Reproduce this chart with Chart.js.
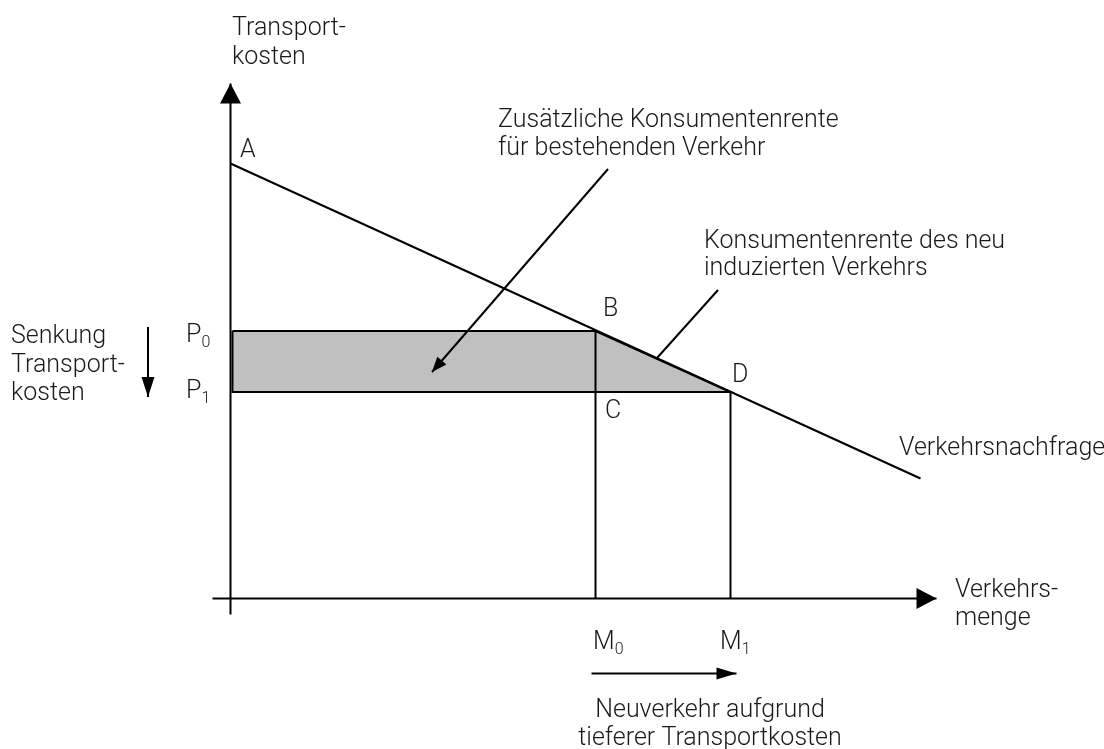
<!DOCTYPE html>
<html>
<head>
<meta charset="utf-8">
<script src="https://cdn.jsdelivr.net/npm/chart.js@4"></script>
<style>
  html, body { margin: 0; padding: 0; background: #fff; }
  #wrap { width: 1104px; height: 749px; }
</style>
</head>
<body>
<div id="wrap"><canvas id="chart" width="1104" height="749"></canvas></div>
<script>
// Demand curve (Verkehrsnachfrage): from A down to the right end
const DEMAND_X = [0, 69.0]
const DEMAND_Y = [43.5, 12.0]
// Transport costs before / after (P0, P1) and traffic volumes (M0, M1)
const PRICES = [26.75, 20.65]
const QUANTITIES = [36.5, 50.0]
// Axis extents
const AXIS_X = [-1.8, 70.6]
const AXIS_Y = [-1.6, 51.5]
// Pointer arrows
const ARROW_SURPLUS_X = [37.75, 20.15]
const ARROW_SURPLUS_Y = [42.95, 22.65]
const LEADER_NEW_X = [48.75, 42.65]
const LEADER_NEW_Y = [30.85, 24.05]
const ARROW_COST_X = [-8.25, -8.25]
const ARROW_COST_Y = [27.15, 20.15]
const ARROW_VOLUME_X = [36.1, 50.6]
const ARROW_VOLUME_Y = [-7.5, -7.5]
const RECT_LEFT = 0.2

const POINT_LABELS = ['A', 'B', 'C', 'D']
const Y_TITLE = ['Transport-', 'kosten']
const X_TITLE = ['Verkehrs-', 'menge']
const COST_NOTE = ['Senkung', 'Transport-', 'kosten']
const SURPLUS_NOTE = ['Zusätzliche Konsumentenrente', 'für bestehenden Verkehr']
const NEW_NOTE = ['Konsumentenrente des neu', 'induzierten Verkehrs']
const VOLUME_NOTE = ['Neuverkehr aufgrund', 'tieferer Transportkosten']
const DEMAND_LABEL = 'Verkehrsnachfrage'

const FONT = '300 25px Roboto, "Liberation Sans", sans-serif'
const SUB_FONT = '300 16px Roboto, "Liberation Sans", sans-serif'
const INK = '#1a1a1a'

const pts = (xs, ys) => xs.map((x, i) => ({ x, y: ys[i] }))

function line(data, extra = {}) {
    return {
        data,
        showLine: true,
        borderColor: '#000',
        borderWidth: 2,
        pointRadius: 0,
        fill: false,
        ...extra
    }
}

const [p0, p1] = PRICES
const [m0, m1] = QUANTITIES

const datasets = [
    line(pts(AXIS_X, [0, 0]), { arrow: { len: 20, half: 10.5 } }),
    line(pts([0, 0], AXIS_Y), { arrow: { len: 20, half: 10.5 } }),
    line(pts(DEMAND_X, DEMAND_Y)),
    line([{ x: m0, y: 0 }, { x: m0, y: p0 }]),
    line([{ x: m1, y: 0 }, { x: m1, y: p1 }]),
    line(pts(ARROW_SURPLUS_X, ARROW_SURPLUS_Y), { arrow: { len: 15, half: 6 } }),
    line(pts(LEADER_NEW_X, LEADER_NEW_Y)),
    line(pts(ARROW_COST_X, ARROW_COST_Y), { arrow: { len: 20, half: 6.5 } }),
    line(pts(ARROW_VOLUME_X, ARROW_VOLUME_Y), { arrow: { len: 20, half: 6 } }),
    // shaded consumer surplus gain (P0-B-D-P1)
    line([
        { x: RECT_LEFT, y: p0 }, { x: m0, y: p0 }, { x: m1, y: p1 },
        { x: RECT_LEFT, y: p1 }, { x: RECT_LEFT, y: p0 }
    ], { fill: 'shape', backgroundColor: '#c0c0c0' })
]

const arrowHeads = {
    id: 'arrowHeads',
    afterDatasetsDraw(chart) {
        const { ctx } = chart
        chart.data.datasets.forEach((ds, i) => {
            if (!ds.arrow) return
            const meta = chart.getDatasetMeta(i)
            const a = meta.data[meta.data.length - 2]
            const b = meta.data[meta.data.length - 1]
            const ang = Math.atan2(b.y - a.y, b.x - a.x)
            const { len, half } = ds.arrow
            ctx.save()
            ctx.translate(b.x, b.y)
            ctx.rotate(ang)
            ctx.fillStyle = '#000'
            ctx.beginPath()
            ctx.moveTo(0, 0)
            ctx.lineTo(-len, -half)
            ctx.lineTo(-len, half)
            ctx.closePath()
            ctx.fill()
            ctx.restore()
        })
    }
}

const texts = {
    id: 'texts',
    afterDraw(chart) {
        const { ctx, scales } = chart
        const X = v => scales.x.getPixelForValue(v)
        const Y = v => scales.y.getPixelForValue(v)
        const write = (str, x, y, align = 'left') => {
            ctx.textAlign = align
            ctx.fillText(str, X(x), Y(y))
        }
        const block = (lines, x, y, step = 2.85, align = 'left') =>
            lines.forEach((s, i) => write(s, x, y - i * step, align))
        const sub = (main, idx, x, y) => {
            ctx.font = FONT
            ctx.textAlign = 'left'
            ctx.fillText(main, X(x), Y(y))
            const w = ctx.measureText(main).width
            ctx.font = SUB_FONT
            ctx.fillText(idx, X(x) + w, Y(y) + 5)
            ctx.font = FONT
        }
        ctx.save()
        ctx.fillStyle = INK
        ctx.font = FONT
        ctx.textBaseline = 'alphabetic'
        block(Y_TITLE, 0.15, 56.35, 2.9)
        write(POINT_LABELS[0], 0.95, 44.15)
        block(SURPLUS_NOTE, 26.75, 47.15, 2.8)
        block(NEW_NOTE, 47.35, 35.05, 2.7)
        write(POINT_LABELS[1], 37.25, 28.25)
        write(POINT_LABELS[2], 37.45, 18.05)
        write(POINT_LABELS[3], 50.15, 21.65)
        block(COST_NOTE, -21.95, 25.55, 2.85)
        sub('P', '0', -4.45, 25.65)
        sub('P', '1', -4.45, 20.05)
        write(DEMAND_LABEL, 66.85, 14.35)
        block(X_TITLE, 72.45, 0.15, 2.75)
        sub('M', '0', 36.25, -5.05)
        sub('M', '1', 48.95, -5.05)
        block(VOLUME_NOTE, 47.95, -11.85, 2.8, 'center')
        ctx.restore()
    }
}

new Chart(document.getElementById('chart'), {
    type: 'scatter',
    data: { datasets },
    options: {
        responsive: false,
        animation: false,
        events: [],
        layout: { padding: 0 },
        plugins: { legend: { display: false }, tooltip: { enabled: false } },
        elements: { line: { tension: 0, borderCapStyle: 'butt' } },
        scales: {
            x: { type: 'linear', min: -23.05, max: 87.35, display: false },
            y: { type: 'linear', min: -15.05, max: 59.85, display: false }
        }
    },
    plugins: [arrowHeads, texts]
})
</script>
</body>
</html>
